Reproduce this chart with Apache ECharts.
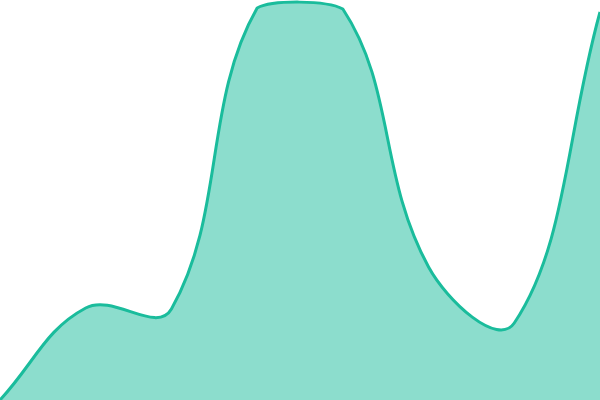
<!DOCTYPE html>
<html>
<head>
<meta charset="utf-8">
<style>
  html, body { margin: 0; padding: 0; background: #fff; }
  #chart { width: 600px; height: 400px; }
</style>
<script src="https://cdn.jsdelivr.net/npm/echarts@6/dist/echarts.min.js"></script>
</head>
<body>
<div id="chart"></div>
<script>
// categories along x (y axis 0..400)
const categories = ['A', 'B', 'C', 'D', 'E', 'F', 'G', 'H'];
const values = [0, 92, 91, 392, 391, 133, 77, 388];

const TENSION = 0.4;
const LINE_COLOR = '#1abc9c';
const FILL_COLOR = 'rgba(26,188,156,0.5)';

// cardinal-style control points, arms weighted by segment length,
// capped to the plot rect
function controlPoints(pts, rect) {
    const clampX = x => Math.max(rect.x, Math.min(rect.x + rect.width, x));
    const clampY = y => Math.max(rect.y, Math.min(rect.y + rect.height, y));
    return pts.map((cur, i) => {
        const prev = pts[i - 1] || cur;
        const next = pts[i + 1] || cur;
        const d01 = Math.hypot(cur[0] - prev[0], cur[1] - prev[1]);
        const d12 = Math.hypot(next[0] - cur[0], next[1] - cur[1]);
        const s01 = (d01 / (d01 + d12)) || 0;
        const s12 = (d12 / (d01 + d12)) || 0;
        const fa = TENSION * s01, fb = TENSION * s12;
        const dx = next[0] - prev[0], dy = next[1] - prev[1];
        return {
            before: [clampX(cur[0] - fa * dx), clampY(cur[1] - fa * dy)],
            after: [clampX(cur[0] + fb * dx), clampY(cur[1] + fb * dy)]
        };
    });
}

function renderItem(params, api) {
    if (params.dataIndex !== 0) {
        return;
    }
    const rect = params.coordSys;
    const pts = values.map((v, i) => api.coord([i, v]));
    const cps = controlPoints(pts, rect);
    let d = 'M' + pts[0][0] + ' ' + pts[0][1];
    for (let i = 1; i < pts.length; i++) {
        const a = cps[i - 1].after, b = cps[i].before;
        d += ' C' + a[0] + ' ' + a[1] + ' ' + b[0] + ' ' + b[1] + ' ' + pts[i][0] + ' ' + pts[i][1];
    }
    const base = api.coord([0, 0])[1];
    const last = pts[pts.length - 1];
    const area = d + ' L' + last[0] + ' ' + base + ' L' + pts[0][0] + ' ' + base + ' Z';
    return {
        type: 'group',
        children: [{
            type: 'path',
            shape: {pathData: area},
            style: {fill: FILL_COLOR, stroke: null}
        }, {
            type: 'path',
            shape: {pathData: d},
            style: {fill: null, stroke: LINE_COLOR, lineWidth: 3, lineJoin: 'round'}
        }]
    };
}

const chart = echarts.init(document.getElementById('chart'), null, {renderer: 'canvas'});

chart.setOption({
    animation: false,
    grid: {left: 0, right: 0, top: 0, bottom: 0},
    xAxis: {
        type: 'category',
        data: categories,
        boundaryGap: false,
        show: false
    },
    yAxis: {
        type: 'value',
        min: 0,
        max: 400,
        show: false
    },
    series: [{
        type: 'custom',
        renderItem: renderItem,
        data: values.map((v, i) => [i, v]),
        encode: {x: 0, y: 1},
        clip: false
    }]
});
</script>
</body>
</html>
